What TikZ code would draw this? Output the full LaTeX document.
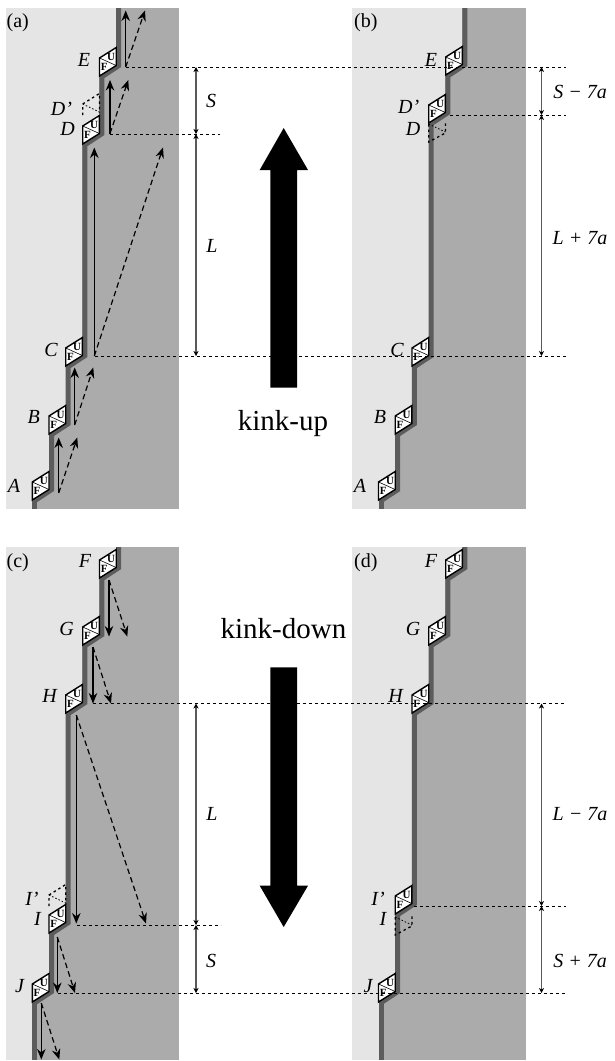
\documentclass[tikz,border=0pt]{standalone}
\usepackage{fontspec}
\setmainfont{Liberation Serif}
\usetikzlibrary{arrows.meta}
\definecolor{lightreg}{gray}{0.9}
\definecolor{darkreg}{gray}{0.67}
\definecolor{wallc}{gray}{0.36}
\tikzset{
  lab/.style={font=\fontsize{20}{20}\selectfont\itshape,anchor=base,inner sep=0pt},
  panlab/.style={font=\fontsize{20}{20}\selectfont,anchor=base west,inner sep=0pt},
  bigtext/.style={font=\fontsize{29}{29}\selectfont,anchor=base,inner sep=0pt},
  celltxt/.style={font=\fontsize{11}{11}\selectfont\bfseries,inner sep=0pt},
  celledge/.style={draw=black,line width=1.4pt,fill=white,line join=miter},
  crossl/.style={draw=black,line width=0.6pt},
  ghost/.style={draw=black,line width=1.3pt,dash pattern=on 2.5pt off 3pt},
  ghostd/.style={draw=black,line width=0.8pt,dash pattern=on 1.5pt off 2pt},
  guide/.style={draw=black,line width=0.7pt,dash pattern=on 2.7pt off 3.3pt},
  dimline/.style={draw=black!65,line width=1.1pt,{Stealth[length=5pt,width=5pt,inset=1.5pt,black]}-{Stealth[length=5pt,width=5pt,inset=1.5pt,black]}},
  moveline/.style={draw=black,line width=1.2pt,-{Stealth[length=10.5pt,width=8.5pt]}},
  movedash/.style={draw=black,line width=1.2pt,dash pattern=on 5.5pt off 3.5pt,-{Stealth[length=10.5pt,width=8.5pt]}},
}
% background of a kink: x, y, top of wall above, left edge of panel
\newcommand{\kinkbg}[4]{%
  \fill[lightreg] (#4,#3) rectangle ({#1+16.7},{#2+5});
  \fill[lightreg] (#4,#2) rectangle (#1,{#2+20});
  \fill[wallc] ({#1+16.7},#3) -- ({#1+21.7},#3) -- ({#1+21.7},{#2+9}) -- ({#1+5},{#2+20}) -- (#1,{#2+20}) -- (#1,{#2+15}) -- ({#1+16.7},{#2+5}) -- cycle;
}
\newcommand{\wallend}[4]{%
  \fill[lightreg] (#4,#2) rectangle (#1,#3);
  \fill[wallc] (#1,#2) rectangle ({#1+5},#3);
}
\newcommand{\kinkcell}[3]{%
  \path[celledge] (#2,#3) -- ({#2+16.7},{#3-10.5}) -- ({#2+16.7},{#3+7.5}) -- (#2,{#3+18}) -- cycle;
  \path[crossl] (#2,#3) -- ({#2+16.7},{#3+7.5});
  \node[celltxt] (#1U) at ({#2+11.5},{#3-1}) {U};
  \node[celltxt] (#1F) at ({#2+4.7},{#3+9}) {F};
}
\newcommand{\ghostup}[2]{% ghost cell above wall: x, y
  \path[ghost] (#1,{#2+11}) -- (#1,#2) -- ({#1+16.7},{#2-10.5}) -- ({#1+16.7},{#2+9});
  \path[ghostd] (#1,#2) -- ({#1+16.7},{#2+8});
}
\newcommand{\ghostdn}[2]{% ghost cell below wall
  \path[ghost] (#1,#2) -- (#1,{#2+18}) -- ({#1+16.7},{#2+9}) -- ({#1+16.7},{#2-2});
  \path[ghostd] (#1,#2) -- ({#1+16.7},{#2+8});
}
\newcommand{\moves}[5]{% name, x, y0, y1, x2
  \coordinate (#1s) at (#2,#3);
  \coordinate (#1t) at (#2,#4);
  \coordinate (#1d) at (#5,#4);
  \draw[moveline] (#1s) -- (#1t);
  \draw[movedash] (#1s) -- (#1d);
}
\newcommand{\guideline}[4]{% name, x1, x2, y
  \coordinate (#1l) at (#2,#4);
  \coordinate (#1r) at (#3,#4);
  \path[guide] (#1l) -- (#1r);
}
\newcommand{\dimspan}[4]{% name, x, y1, y2
  \coordinate (#1a) at (#2,#3);
  \coordinate (#1b) at (#2,#4);
  \draw[dimline] (#1a) -- (#1b);
}
\begin{document}
\begin{tikzpicture}[x=1pt,y=-1pt]
\useasboundingbox (0,0) rectangle (615,1061);
% ---------- panel backgrounds
\fill[darkreg] (6,8) rectangle (179,509);
\fill[darkreg] (352.3,8) rectangle (526,509);
\fill[darkreg] (6,547) rectangle (179,1060);
\fill[darkreg] (352.3,547) rectangle (526,1060);
% ---------- panel a
\kinkbg{99.5}{58}{8}{6}
\kinkbg{82.7}{126}{73}{6}
\kinkbg{65.7}{348}{141}{6}
\kinkbg{49}{416}{363}{6}
\kinkbg{32.3}{482}{431}{6}
\wallend{32.3}{497}{509}{6}
\ghostup{82.7}{104}
\kinkcell{aE}{99.5}{58}
\kinkcell{aD}{82.7}{126}
\kinkcell{aC}{65.7}{348}
\kinkcell{aB}{49}{416}
\kinkcell{aA}{32.3}{482}
\moves{mE}{125.7}{67}{10.5}{145}
\moves{mD}{110}{133.5}{80}{128.3}
\moves{mC}{94.3}{356}{147.5}{163}
\moves{mB}{74.7}{425}{367.5}{93.3}
\moves{mA}{58.7}{493}{437.5}{77.3}
% ---------- panel b
\kinkbg{445.7}{57}{8}{352.3}
\kinkbg{428.7}{105}{72}{352.3}
\kinkbg{412}{348}{120}{352.3}
\kinkbg{395.2}{416}{363}{352.3}
\kinkbg{378.5}{482}{431}{352.3}
\wallend{378.5}{497}{509}{352.3}
\ghostdn{428.7}{124}
\kinkcell{bE}{445.7}{57}
\kinkcell{bD}{428.7}{105}
\kinkcell{bC}{412}{348}
\kinkcell{bB}{395.2}{416}
\kinkcell{bA}{378.5}{482}
% ---------- panel c
\kinkbg{99.5}{560}{547}{6}
\kinkbg{82.7}{627}{575}{6}
\kinkbg{65.7}{695}{642}{6}
\kinkbg{49}{915}{710}{6}
\kinkbg{32.3}{984}{930}{6}
\wallend{32.3}{999}{1060}{6}
\ghostup{49}{895}
\kinkcell{cF}{99.5}{560}
\kinkcell{cG}{82.7}{627}
\kinkcell{cH}{65.7}{695}
\kinkcell{cI}{49}{915}
\kinkcell{cJ}{32.3}{984}
\moves{mF}{109}{580}{636.5}{127.3}
\moves{mG}{93}{647}{703.5}{111}
\moves{mH}{76.3}{715}{923.5}{146}
\moves{mI}{57.3}{937}{993}{75}
\moves{mJ}{41.3}{1003}{1059.5}{59.3}
% ---------- panel d
\kinkbg{445.7}{560}{547}{352.3}
\kinkbg{428.7}{627}{575}{352.3}
\kinkbg{412}{695}{642}{352.3}
\kinkbg{395.2}{896}{710}{352.3}
\kinkbg{378.5}{984}{911}{352.3}
\wallend{378.5}{999}{1060}{352.3}
\ghostdn{395.2}{917}
\kinkcell{dF}{445.7}{560}
\kinkcell{dG}{428.7}{627}
\kinkcell{dH}{412}{695}
\kinkcell{dI}{395.2}{896}
\kinkcell{dJ}{378.5}{984}
% ---------- guide lines
\guideline{g1}{126}{566}{67}
\guideline{g2}{110}{220}{134}
\guideline{g3}{450}{566}{115}
\guideline{g4}{95}{566}{356}
\guideline{g5}{93}{566}{703.5}
\guideline{g6}{77}{221}{925}
\guideline{g7}{414}{566}{906}
\guideline{g8}{58}{566}{993}
% ---------- dimensions
\dimspan{d1}{196}{67}{134}
\dimspan{d2}{196}{134}{356}
\dimspan{d3}{541.5}{67}{115}
\dimspan{d4}{541.5}{115}{356}
\dimspan{d5}{196}{703.5}{925}
\dimspan{d6}{196}{925}{993}
\dimspan{d7}{541.5}{703.5}{906}
\dimspan{d8}{541.5}{906}{993}
% ---------- big arrows
\fill[black] (270.3,387.7) -- (270.3,170) -- (259.7,170) -- (283.7,128) -- (308,170) -- (297,170) -- (297,387.7) -- cycle;
\fill[black] (270.3,667.3) -- (270.3,885.7) -- (259.7,885.7) -- (283.7,927) -- (308,885.7) -- (297,885.7) -- (297,667.3) -- cycle;
\node[bigtext] (up) at (283,430) {kink-up};
\node[bigtext] (down) at (283.5,638) {kink-down};
% ---------- panel labels
\node[panlab] (pa) at (6.5,27) {(a)};
\node[panlab] (pb) at (354,27) {(b)};
\node[panlab] (pc) at (6.5,567) {(c)};
\node[panlab] (pd) at (354,567) {(d)};
% ---------- kink labels
\node[lab] (lE) at (84,66.7) {E};
\node[lab] (lDp) at (61.5,115) {D'};
\node[lab] (lD) at (67.5,135) {D};
\node[lab] (lC) at (51,356.7) {C};
\node[lab] (lB) at (33.7,423) {B};
\node[lab] (lA) at (14,492) {A};
\node[lab] (lE2) at (431,66.7) {E};
\node[lab] (lDp2) at (408.7,113) {D'};
\node[lab] (lD2) at (413,135) {D};
\node[lab] (lC2) at (397,356.7) {C};
\node[lab] (lB2) at (380,423) {B};
\node[lab] (lA2) at (360,492) {A};
\node[lab] (lF) at (85,567) {F};
\node[lab] (lG) at (66.7,635) {G};
\node[lab] (lH) at (49.5,702) {H};
\node[lab] (lIp) at (32,905) {I'};
\node[lab] (lI) at (37.5,925) {I};
\node[lab] (lJ) at (19.5,992) {J};
\node[lab] (lF2) at (431,567) {F};
\node[lab] (lG2) at (413,635) {G};
\node[lab] (lH2) at (395.5,702) {H};
\node[lab] (lIp2) at (378,905) {I'};
\node[lab] (lI2) at (383,925) {I};
\node[lab] (lJ2) at (368,992) {J};
% ---------- dimension labels
\node[lab] (tS) at (211,107) {S};
\node[lab] (tL) at (212,252) {L};
\node[lab] (tL2) at (212,820) {L};
\node[lab] (tS2) at (211,967) {S};
\node[lab] (tA) at (580,98) {S − 7a};
\node[lab] (tB) at (580,244) {L + 7a};
\node[lab] (tC) at (580,820) {L − 7a};
\node[lab] (tD) at (580,967) {S + 7a};
\end{tikzpicture}
\end{document}
